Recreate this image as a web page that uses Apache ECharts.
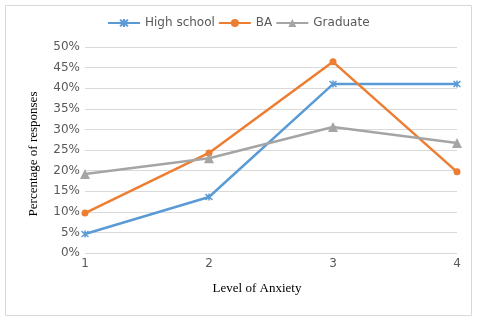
<!DOCTYPE html>
<html><head><meta charset="utf-8">
<script src="https://cdn.jsdelivr.net/npm/echarts@6/dist/echarts.min.js"></script>
<style>html,body{margin:0;padding:0;background:#fff}#c{width:477px;height:323px}</style>
</head><body><div id="c"></div>
<script>
var categories = ['1', '2', '3', '4'];
var highSchool = [4.6, 13.6, 41.0, 41.0];
var ba = [9.7, 24.3, 46.4, 19.7];
var graduate = [19.2, 23.0, 30.6, 26.7];
var yTicks = [0, 5, 10, 15, 20, 25, 30, 35, 40, 45, 50];

var chart = echarts.init(document.getElementById('c'));
var asterisk = 'path://M0,0 L10,10 M10,0 L0,10 M5,-1 L5,11';
chart.setOption({
  animation: false,
  graphic: [{type: 'rect', shape: {x: 5.5, y: 5.5, width: 466, height: 310}, style: {fill: 'none', stroke: '#d9d9d9', lineWidth: 1}}],
  legend: {
    top: 17, left: 107, padding: 0, itemWidth: 32, itemHeight: 10, itemGap: 3,
    textStyle: {fontFamily: 'DejaVu Sans', fontSize: 12, color: '#595959'},
    data: ['High school', 'BA', 'Graduate']
  },
  grid: {left: 85, right: 20, top: 47, bottom: 70},
  xAxis: {
    type: 'category', data: categories, boundaryGap: false,
    name: 'Level of Anxiety', nameLocation: 'middle', nameGap: 29,
    nameTextStyle: {fontFamily: 'Liberation Serif', fontSize: 13, color: '#000', padding: [0, 28, 0, 0]},
    axisLine: {show: false}, axisTick: {show: false},
    axisLabel: {fontFamily: 'DejaVu Sans', fontSize: 12, color: '#595959', margin: 5}
  },
  yAxis: {
    type: 'value', min: 0, max: 50, interval: 5,
    name: 'Percentage of responses', nameLocation: 'middle', nameGap: 45,
    nameTextStyle: {fontFamily: 'Liberation Serif', fontSize: 13, color: '#000', padding: [0, 8, 0, 0]},
    axisLine: {show: false}, axisTick: {show: false},
    splitLine: {lineStyle: {color: '#d9d9d9', width: 1}},
    axisLabel: {fontFamily: 'DejaVu Sans', fontSize: 12, color: '#595959', margin: 5,
      formatter: function (v) { return yTicks.indexOf(v) >= 0 ? v + '%' : ''; }}
  },
  series: [
    {name: 'High school', type: 'line', data: highSchool, symbol: asterisk, symbolSize: 7,
      lineStyle: {width: 2.5, color: '#5b9bd5'},
      itemStyle: {color: '#5b9bd5', borderColor: '#5b9bd5', borderWidth: 1.5}},
    {name: 'BA', type: 'line', data: ba, symbol: 'circle', symbolSize: 7,
      lineStyle: {width: 2.5, color: '#ed7d31'},
      itemStyle: {color: '#ed7d31', borderColor: '#ed7d31', borderWidth: 0}},
    {name: 'Graduate', type: 'line', data: graduate, symbol: 'triangle', symbolSize: 10,
      lineStyle: {width: 2.5, color: '#a5a5a5'},
      itemStyle: {color: '#a5a5a5', borderColor: '#a5a5a5', borderWidth: 0}}
  ]
});
</script></body></html>
